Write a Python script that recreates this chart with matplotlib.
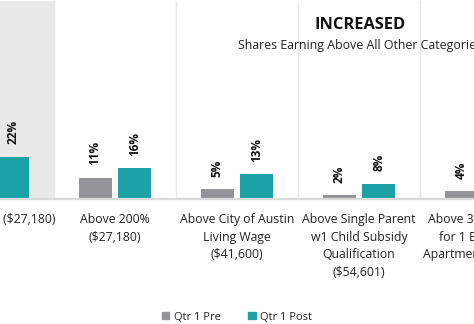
import matplotlib
matplotlib.use("Agg")
import matplotlib.pyplot as plt
from matplotlib.patches import Patch

plt.rcParams['font.family'] = ['Open Sans', 'DejaVu Sans']

categories = [
    "Above 100% ($27,180)",
    "Above 200%\n($27,180)",
    "Above City of Austin\nLiving Wage\n($41,600)",
    "Above Single Parent\nw1 Child Subsidy\nQualification\n($54,601)",
    "Above 30% of Rent\nfor 1 Bedroom\nApartment ($55,000)",
]
pre_values = [15, 11, 5, 2, 4]
post_values = [22, 16, 13, 8, 9]
series_names = ["Qtr 1 Pre", "Qtr 1 Post"]
title = "INCREASED"
subtitle = "Shares Earning Above All Other Categories"

GRAY = "#939598"
TEAL = "#1ca2a6"
W, H = 474, 324
fig = plt.figure(figsize=(W / 100, H / 100), dpi=100)

# axes geometry in pixels (crop of a wider chart)
px_per_group = 122.0
x0_center = -7.0
left_px = x0_center - 0.5 * px_per_group
right_px = x0_center + 4.5 * px_per_group
base_px = 199.0
top_px = 1.0
px_per_pct = 1.92
ax = fig.add_axes([left_px / W, (H - base_px) / H,
                   (right_px - left_px) / W, (base_px - top_px) / H])
ax.set_xlim(-0.5, 4.5)
ax.set_ylim(0, (base_px - top_px) / px_per_pct)
ax.axis("off")

n = len(categories)
xs = list(range(n))
bw = 0.27
off = 0.162

ax.axvspan(-0.5, 0.5, color="#e8e9e8", zorder=0, lw=0)
for i in range(n - 1):
    ax.axvline(i + 0.5, color="#e9e9e9", lw=1.0, zorder=1)
ax.axhline(0, color="#dadada", lw=1.6, zorder=3, clip_on=False)

b1 = ax.bar([x - off for x in xs], pre_values, width=bw, color=GRAY, zorder=2)
b2 = ax.bar([x + off for x in xs], post_values, width=bw, color=TEAL, zorder=2)

for bars, vals in ((b1, pre_values), (b2, post_values)):
    for b, v in zip(bars, vals):
        ax.annotate(f"{v}%", (b.get_x() + b.get_width() / 2, v),
                    xytext=(0, 9), textcoords="offset points",
                    rotation=90, ha="center", va="bottom",
                    fontsize=8.5, fontweight="bold", color="#111111")

for x, lab in zip(xs, categories):
    ax.annotate(lab, (x, 0), xytext=(0, -10), textcoords="offset points",
                ha="center", va="top", fontsize=8.8, color="#222222",
                linespacing=1.48, annotation_clip=False)

fig.text(360 / W, 1 - 25 / H, title, ha="center", va="center",
         fontsize=11.8, fontweight="bold", color="#111111")
fig.text(360 / W, 1 - 46 / H, subtitle, ha="center", va="center",
         fontsize=8.9, color="#222222")

handles = [Patch(color=GRAY, label=series_names[0]),
           Patch(color=TEAL, label=series_names[1])]
fig.legend(handles=handles, loc="center", bbox_to_anchor=(237 / W, 1 - 317 / H),
           ncol=2, frameon=False, fontsize=8, handlelength=0.65, handleheight=0.65,
           handletextpad=0.4, columnspacing=2.5, labelcolor="#222222")

fig.savefig("out.png", dpi=100)
